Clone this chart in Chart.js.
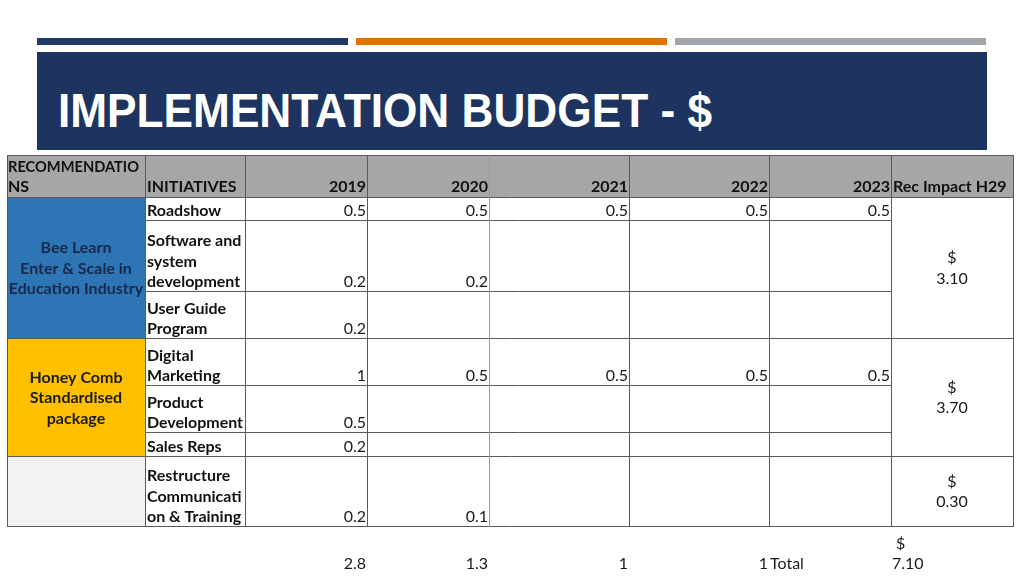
<!DOCTYPE html>
<html>
<head>
<meta charset="utf-8">
<script src="https://cdn.jsdelivr.net/npm/chart.js@4.4.1/dist/chart.umd.min.js"></script>
<style>
  html,body{margin:0;padding:0;background:#fff;}
  #wrap{position:relative;width:1024px;height:576px;overflow:hidden;}
  .bar{position:absolute;top:38px;height:7px;}
  #band{position:absolute;left:37px;top:52px;width:950px;height:98px;background:#1d3461;}
  #title{position:absolute;left:58px;top:82px;font-family:"Liberation Sans",Arial,sans-serif;font-weight:bold;font-size:49px;color:#fff;white-space:nowrap;transform-origin:0 0;line-height:56px;}
  #cv{position:absolute;left:0;top:0;}
</style>
</head>
<body>
<div id="wrap">
  <div class="bar" style="left:37px;width:311px;background:#1f3864"></div>
  <div class="bar" style="left:356px;width:311px;background:#e07000"></div>
  <div class="bar" style="left:675px;width:311px;background:#a2a5a9"></div>
  <div id="band"></div>
  <div id="title">IMPLEMENTATION BUDGET - $</div>
  <div style="position:absolute;left:0;top:0;width:1024px;height:576px;"><canvas id="cv"></canvas></div>
</div>
<script>
// ---------- data ----------
const headers = ["RECOMMENDATIONS", "INITIATIVES", "2019", "2020", "2021", "2022", "2023", "Rec Impact H29"];
const years = ["2019", "2020", "2021", "2022", "2023"];
const recommendations = [
  ["Bee Learn", "Enter & Scale in", "Education Industry"],
  ["Honey Comb", "Standardised", "package"],
  []
];
const recGroupRows = [[0, 2], [3, 5], [6, 6]];
const initiatives = [
  ["Roadshow"],
  ["Software and", "system", "development"],
  ["User Guide", "Program"],
  ["Digital", "Marketing"],
  ["Product", "Development"],
  ["Sales Reps"],
  ["Restructure", "Communicati", "on & Training"]
];
const v2019 = [0.5, 0.2, 0.2, 1, 0.5, 0.2, 0.2];
const v2020 = [0.5, 0.2, null, 0.5, null, null, 0.1];
const v2021 = [0.5, null, null, 0.5, null, null, null];
const v2022 = [0.5, null, null, 0.5, null, null, null];
const v2023 = [0.5, null, null, 0.5, null, null, null];
const recImpact = [3.10, 3.70, 0.30];
const yearTotals = [2.8, 1.3, 1, 1];
const grandTotal = 7.10;
const totalLabel = "Total";

// ---------- layout (positions / sizes) ----------
const colEdges = [0, 138, 238, 360, 482, 622, 762, 884, 1006];
const rowEdges = [0, 42, 65, 136, 183, 230, 277, 301, 371];
const yMax = 421;
const FONT = "Lato, 'Open Sans', sans-serif";
const LINE_H = 20.5;

const yearSeries = [v2019, v2020, v2021, v2022, v2023];
const datasets = yearSeries.map((arr, j) => ({
  label: years[j],
  data: arr.map((v, i) => v === null ? null : ({x: colEdges[j + 3], y: rowEdges[i + 2], v: v})).filter(p => p),
  pointRadius: 0, showLine: false
}));
datasets.push({
  label: "Rec Impact",
  data: recImpact.map((v, g) => ({x: (colEdges[7] + colEdges[8]) / 2, y: (rowEdges[recGroupRows[g][0] + 1] + rowEdges[recGroupRows[g][1] + 2]) / 2, v: v})),
  pointRadius: 0, showLine: false
});
datasets.push({
  label: "Totals",
  data: yearTotals.map((v, j) => ({x: colEdges[j + 3], y: yMax, v: v})),
  pointRadius: 0, showLine: false
});

const tablePlugin = {
  id: 'table',
  beforeDatasetsDraw(chart) {
    const ctx = chart.ctx, xs = chart.scales.x, ys = chart.scales.y;
    const X = v => Math.round(xs.getPixelForValue(v));
    const Y = v => Math.round(ys.getPixelForValue(v));
    ctx.save();
    ctx.fillStyle = '#a6a6a6';
    ctx.fillRect(X(0), Y(0), X(colEdges[8]) - X(0), Y(rowEdges[1]) - Y(0));
    const recFills = ['#2e75b6', '#ffc000', '#f2f2f2'];
    recGroupRows.forEach((g, k) => {
      ctx.fillStyle = recFills[k];
      ctx.fillRect(X(0), Y(rowEdges[g[0] + 1]), X(colEdges[1]) - X(0), Y(rowEdges[g[1] + 2]) - Y(rowEdges[g[0] + 1]));
    });
    ctx.lineWidth = 1;
    const hline = (yv, x0, x1, col) => { ctx.strokeStyle = col || '#5a5a5a'; ctx.beginPath(); ctx.moveTo(X(x0), Y(yv) + 0.5); ctx.lineTo(X(x1) + 1, Y(yv) + 0.5); ctx.stroke(); };
    const vline = (xv, y0, y1, col) => { ctx.strokeStyle = col || '#5a5a5a'; ctx.beginPath(); ctx.moveTo(X(xv) + 0.5, Y(y0)); ctx.lineTo(X(xv) + 0.5, Y(y1) + 1); ctx.stroke(); };
    const groupBounds = new Set([0, 1]);
    recGroupRows.forEach(g => { groupBounds.add(g[0] + 1); groupBounds.add(g[1] + 2); });
    rowEdges.forEach((r, i) => {
      if (groupBounds.has(i)) hline(r, colEdges[0], colEdges[8]);
      else hline(r, colEdges[1], colEdges[7]);
    });
    colEdges.forEach((c, i) => vline(c, rowEdges[0], rowEdges[8], i === 4 ? '#9a9a9a' : null));
    ctx.textBaseline = 'middle';
    ctx.fillStyle = '#111';
    ctx.font = 'bold 16px ' + FONT;
    const hb = Y(rowEdges[1]) - 10;
    ctx.textAlign = 'left';
    ctx.fillText(headers[0].slice(0, 13), X(0) + 1, hb - LINE_H, 131);
    ctx.fillText(headers[0].slice(13), X(0) + 1, hb);
    ctx.fillText(headers[1], X(colEdges[1]) + 2, hb);
    ctx.textAlign = 'right';
    years.forEach((y, j) => ctx.fillText(y, X(colEdges[j + 3]) - 1, hb));
    ctx.textAlign = 'left';
    ctx.fillText(headers[7], X(colEdges[7]) + 2, hb);
    ctx.textAlign = 'center';
    const recColors = ['#18284a', '#1a1a1a', '#1a1a1a'];
    recommendations.forEach((lines, k) => {
      const g = recGroupRows[k];
      const cy = (Y(rowEdges[g[0] + 1]) + Y(rowEdges[g[1] + 2])) / 2 + 1;
      ctx.fillStyle = recColors[k];
      lines.forEach((t, l) => ctx.fillText(t, (X(colEdges[0]) + X(colEdges[1])) / 2, cy + (l - (lines.length - 1) / 2) * LINE_H));
    });
    ctx.textAlign = 'left';
    ctx.fillStyle = '#111';
    initiatives.forEach((lines, i) => {
      const bot = Y(rowEdges[i + 2]) - 9;
      lines.forEach((t, l) => ctx.fillText(t, X(colEdges[1]) + 2, bot - (lines.length - 1 - l) * LINE_H, 96));
    });
    ctx.restore();
  },
  afterDatasetsDraw(chart) {
    const ctx = chart.ctx;
    ctx.save();
    ctx.font = '16px ' + FONT;
    ctx.fillStyle = '#1a1a1a';
    ctx.textBaseline = 'middle';
    chart.data.datasets.forEach((ds, di) => {
      const meta = chart.getDatasetMeta(di);
      meta.data.forEach((el, k) => {
        const v = ds.data[k].v;
        if (ds.label === 'Rec Impact') {
          ctx.textAlign = 'center';
          ctx.fillText('$', el.x, el.y - LINE_H / 2 + 1);
          ctx.fillText(v.toFixed(2), el.x, el.y + LINE_H / 2 + 1);
        } else if (ds.label === 'Totals') {
          ctx.textAlign = 'right';
          ctx.fillText(String(v), el.x - 1, el.y - 12);
        } else {
          ctx.textAlign = 'right';
          ctx.fillText(String(v), el.x - 1, el.y - 9);
        }
      });
    });
    const xs = chart.scales.x, ys = chart.scales.y;
    const by = ys.getPixelForValue(yMax) - 12;
    ctx.textAlign = 'left';
    ctx.fillText(totalLabel, xs.getPixelForValue(colEdges[6]) + 1, by);
    ctx.fillText('$', xs.getPixelForValue(colEdges[7]) + 5, by - LINE_H);
    ctx.fillText(grandTotal.toFixed(2), xs.getPixelForValue(colEdges[7]) + 1, by);
    ctx.restore();
  }
};

new Chart(document.getElementById('cv'), {
  type: 'scatter',
  data: {datasets},
  options: {
    responsive: true, maintainAspectRatio: false, animation: false,
    layout: {padding: {left: 7, right: 11, top: 155, bottom: 0}},
    plugins: {legend: {display: false}, tooltip: {enabled: false}},
    scales: {
      x: {type: 'linear', min: 0, max: colEdges[8], display: false},
      y: {type: 'linear', min: 0, max: yMax, reverse: true, display: false}
    }
  },
  plugins: [tablePlugin]
});

const t = document.getElementById('title');
const w = t.getBoundingClientRect().width;
t.style.transform = 'scaleX(' + (654 / w) + ')';
</script>
</body>
</html>
